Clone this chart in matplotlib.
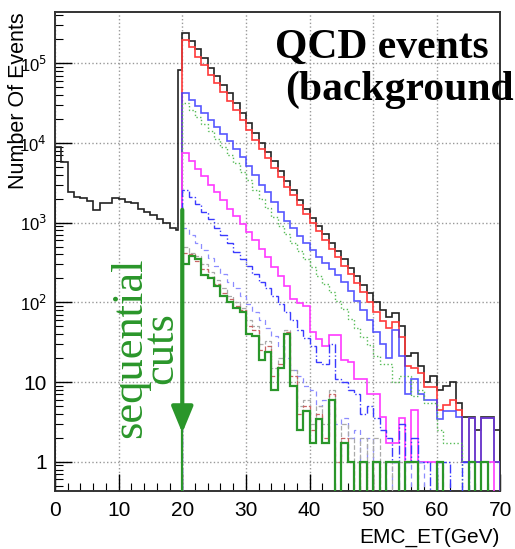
import numpy as np
import matplotlib
matplotlib.use("Agg")
import matplotlib.pyplot as plt
from matplotlib.ticker import FixedLocator, FixedFormatter, MultipleLocator

plt.rcParams['font.family'] = ['Liberation Sans', 'DejaVu Sans']

# total spectrum, 1 GeV bins below the 20 GeV threshold (last one split)
black_edges = list(range(0, 20)) + [19.3] + list(range(20, 71))
black_low = [8900, 5800, 2400, 2100, 2050, 1850, 1450, 1750, 1750, 2050,
             2000, 1800, 1750, 1500, 1350, 1250, 1100, 1000, 850, 800, 82000]
black_high = [2.4e5, 1.9e5, 1.5e5, 1.15e5, 8.8e4, 7.0e4, 5.4e4, 4.2e4, 3.2e4, 2.4e4,
              1.8e4, 1.35e4, 1.0e4, 7.8e3, 5.9e3, 4.4e3, 3.3e3, 2.6e3, 1.95e3, 1.5e3,
              1150, 900, 720, 560, 440, 350, 270, 215, 165, 130,
              100, 80, 66, 74, 50, 21, 23, 16, 10, 12,
              8, 9, 10, 5.5, 3.7, 3.7, 2.5, 3.7, 3.7, 2.5]
black_vals = black_low + black_high

# cut stages, bins from 20 to 70 GeV
cut_edges = list(range(20, 71))
red_vals = [1.95e5, 1.6e5, 1.2e5, 9.5e4, 7.2e4, 5.6e4, 4.4e4, 3.4e4, 2.6e4, 1.95e4,
            1.45e4, 1.1e4, 8.4e3, 6.4e3, 4.8e3, 3.7e3, 2.8e3, 2.2e3, 1.65e3, 1.3e3,
            1000, 780, 600, 470, 370, 290, 225, 175, 135, 100,
            75, 58, 48, 57, 37, 16, 15, 13, 8.8, 8.8,
            4.5, 5.2, 6, 4.5, 1, 3.5, 1, 3.5, 3.5, 1]
blue_vals = [4.2e4, 3.5e4, 2.9e4, 2.4e4, 1.95e4, 1.6e4, 1.3e4, 1.05e4, 8.5e3, 6.6e3,
             5.2e3, 4.0e3, 3.0e3, 2.4e3, 1.8e3, 1350, 1050, 850, 680, 550,
             450, 370, 310, 260, 220, 180, 140, 105, 80, 60,
             42, 30, 20, 45, 21, 7, 11, 7, 6, 6,
             3.4, 4.3, 4.3, 3.7, 1, 3.5, 1, 3.5, 3.5, 1]
gdot_vals = [3.2e4, 2.6e4, 2.15e4, 1.75e4, 1.4e4, 1.12e4, 8.9e3, 7.1e3, 5.6e3, 4.3e3,
             3.4e3, 2.6e3, 2.0e3, 1550, 1180, 900, 720, 560, 440, 350,
             280, 215, 170, 135, 105, 82, 62, 48, 37, 29,
             21, 17, 17, 10, 12, 12, 6.6, 8, 5.5, 5.5,
             2.5, 1.7, 1.7, 1.7, 0, 0, 0, 0, 0, 0]
mag_vals = [7400, 6000, 4700, 3800, 3000, 2400, 1900, 1500, 1200, 950,
            770, 600, 470, 370, 280, 215, 160, 110, 98, 90,
            42, 35, 28, 39, 39, 19, 18, 11, 11, 7,
            7, 3.7, 1.7, 1.7, 3.5, 1, 4.5, 1, 1, 1,
            1, 0, 0, 0, 0, 0, 0, 1, 1, 0]
bdd_vals = [2600, 2100, 1700, 1350, 1100, 850, 700, 560, 430, 350,
            290, 230, 180, 150, 120, 95, 75, 60, 45, 36,
            28, 18, 17, 30, 11, 10, 8, 7, 4, 5,
            3.5, 2.5, 2, 1, 3, 1, 2, 1, 1, 0,
            1, 1, 0, 0, 1, 0, 0, 0, 0, 0]
lbd_vals = [850, 700, 560, 450, 360, 290, 230, 180, 150, 120,
            95, 75, 60, 48, 38, 28, 20, 14, 12, 9,
            8, 5, 6, 4, 3, 3.5, 2, 2.5, 1, 2,
            1, 1, 0, 1, 0, 1, 0, 1, 0, 0,
            1, 0, 0, 0, 0, 0, 0, 0, 0, 0]
grey_vals = [500, 420, 380, 300, 240, 190, 150, 120, 100, 85,
             60, 50, 30, 33, 15, 20, 45, 14, 5, 6,
             3, 5, 3, 8, 1, 3, 2, 1, 2, 0,
             2, 1, 1, 0, 1, 1, 1, 0, 0, 0,
             0, 0, 0, 0, 0, 0, 0, 0, 0, 0]
rdash_vals = [420, 400, 330, 260, 210, 170, 130, 110, 90, 80,
              50, 45, 25, 28, 12, 17, 42, 12, 4, 5,
              2.5, 4, 2, 7, 1, 2, 1, 0, 1, 0,
              1, 0, 0, 0, 0, 0, 0, 0, 0, 0,
              0, 0, 0, 0, 0, 0, 0, 0, 0, 0]
green_vals = [300, 380, 350, 220, 200, 160, 120, 100, 85, 75,
              40, 38, 19, 24, 8, 15, 40, 9, 2.5, 4.3,
              1.7, 3.4, 1.7, 6, 0, 1.7, 1, 0, 1, 0,
              1, 0, 1, 1, 0, 1, 1, 0, 0, 0,
              1, 0, 0, 0, 0, 1, 0, 1, 0, 0]

xticks = [0, 10, 20, 30, 40, 50, 60, 70]
yticks = [1, 10, 100, 1000, 1e4, 1e5]
ytick_labels = ['1', '10', '10$^{2}$', '10$^{3}$', '10$^{4}$', '10$^{5}$']

ymin, ymax = 0.43, 4.4e5
cut_green = '#2a962a'

fig = plt.figure(figsize=(5.15, 5.49), dpi=100)
ax = fig.add_axes([0.1068, 0.1056, 0.865, 0.8725])
ax.set_yscale('log')

ax.stairs(black_vals, black_edges, baseline=ymin, color='#222222', lw=1.2, zorder=3)
ax.stairs(red_vals, cut_edges, baseline=ymin, color='#ff3a3a', lw=1.2, zorder=4)
ax.stairs(blue_vals, cut_edges, baseline=ymin, color='#3a3aff', lw=1.2, alpha=0.85, zorder=5)
ax.stairs(gdot_vals, cut_edges, baseline=ymin, color='#55bb55', lw=1.0, ls=':', zorder=5)
ax.stairs(mag_vals, cut_edges, baseline=ymin, color='#ff3aff', lw=1.2, zorder=5)
ax.stairs(bdd_vals, cut_edges, baseline=ymin, color='#3a3aff', lw=1.0, ls='-.', zorder=5)
ax.stairs(lbd_vals, cut_edges, baseline=ymin, color='#8c8cff', lw=0.9, ls=(0, (4, 3)), zorder=5)
ax.stairs(grey_vals, cut_edges, baseline=ymin, color='#aaaaaa', lw=0.9, ls='--', zorder=5)
ax.stairs(rdash_vals, cut_edges, baseline=ymin, color='#c86464', lw=0.9, ls='--', zorder=5)
ax.stairs(green_vals, cut_edges, baseline=ymin, color=cut_green, lw=1.6, zorder=6)

ax.annotate('', xy=(20, 2.3), xytext=(20, 1450),
            arrowprops=dict(arrowstyle='-|>,head_length=0.8,head_width=0.33',
                            color=cut_green, lw=3, mutation_scale=20,
                            shrinkA=0, shrinkB=0), zorder=7)
ax.text(14.3, 27, 'sequential\ncuts', rotation=90, ha='center', va='center',
        color=cut_green, fontsize=32, family='Liberation Serif',
        linespacing=0.72, zorder=7)

ax.set_xlim(0, 70)
ax.set_ylim(ymin, ymax)
ax.xaxis.set_major_locator(FixedLocator(xticks))
ax.xaxis.set_minor_locator(MultipleLocator(2))
ax.yaxis.set_major_locator(FixedLocator(yticks))
ax.yaxis.set_major_formatter(FixedFormatter(ytick_labels))
ax.tick_params(which='both', direction='in', top=False, right=False, labelsize=15)
ax.tick_params(which='major', length=12, width=1.0)
ax.tick_params(which='minor', length=6, width=0.8)
ax.tick_params(axis='x', pad=7)
ax.tick_params(axis='y', pad=6)
# power-of-ten labels are set a bit smaller than the plain ones
for lab in ax.get_yticklabels()[2:]:
    lab.set_fontsize(12)
ax.grid(True, which='major', ls=':', color='#999999', lw=1.0)
for sp in ax.spines.values():
    sp.set_linewidth(1.4)
    sp.set_color('#333333')

fig.text(19 / 515, 1 - 12 / 549, 'Number Of Events', rotation=90,
         ha='center', va='top', fontsize=15.5)
fig.text(500 / 515, 1 - 537 / 549, 'EMC_ET(GeV)', ha='right', va='center',
         fontsize=15)
fig.text(275 / 515, 1 - 58 / 549, 'QCD events', ha='left', va='baseline',
         fontsize=30, fontweight='bold', family='Liberation Serif', zorder=8)
fig.text(285 / 515, 1 - 100 / 549, '(background', ha='left', va='baseline',
         fontsize=30, fontweight='bold', family='Liberation Serif', zorder=8)

fig.savefig('out.png', dpi=100)
